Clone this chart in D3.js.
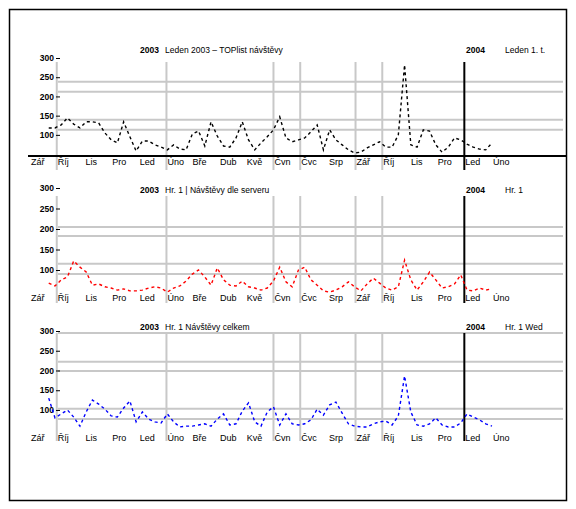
<!DOCTYPE html>
<html><head><meta charset="utf-8">
<script src="https://cdn.jsdelivr.net/npm/d3@7"></script>
<style>body{margin:0;background:#fff}svg{display:block}</style>
</head><body><svg id="c" width="576" height="509"></svg>
<script>
// ---------- data ----------
const monthLabels = ["Zář","Říj","Lis","Pro","Led","Úno","Bře","Dub","Kvě","Čvn","Čvc","Srp","Zář","Říj","Lis","Pro","Led","Úno"];
const firstMonth = new Date(2002, 8, 1);
const seriesStart = new Date(2002, 8, 22);   // weekly samples
const seriesBlack = [118,118,126,144,128,118,134,134,131,105,
  87,79,134,95,58,84,84,74,68,61,
  74,63,61,102,110,71,134,97,71,68,
  92,134,87,61,79,95,113,147,92,82,
  87,92,108,126,61,113,87,74,61,53,
  55,66,74,82,68,68,100,282,74,68,
  113,110,74,55,68,92,87,76,68,63,
  61,79];
const seriesRed = [68,61,76,83,122,107,95,63,66,59,
  56,51,54,49,49,51,56,59,56,46,
  56,61,73,90,100,83,63,105,76,63,
  61,73,59,56,51,56,73,107,71,59,
  100,107,76,63,49,46,51,59,71,59,
  49,66,80,68,56,51,59,124,76,51,
  71,95,76,56,59,66,88,51,49,56,
  51,54];
const seriesBlue = [130,80,90,100,82,59,95,125,115,102,
  85,82,105,123,70,95,77,70,67,90,
  70,57,59,59,62,65,59,77,90,62,
  65,97,118,70,59,95,108,62,90,65,
  62,65,75,102,87,113,120,92,65,59,
  57,57,65,70,72,62,85,186,95,62,
  59,65,80,62,57,57,67,90,82,75,
  65,59];
const yTickValues = [100, 150, 200, 250, 300];
const refLines1 = [238, 212, 139, 113];
const refLines2 = [205, 183, 115, 90];
const refLines3 = [295, 222, 199, 103, 77];
const markerDates = [new Date(2002,9,1), new Date(2003,1,1), new Date(2003,5,1), new Date(2003,6,1), new Date(2003,8,1), new Date(2003,9,1)];
const yearMark = new Date(2004, 0, 1);
const titleYearLeft = ["2003", "2003", "2003"];
const titleTextLeft = ["Leden 2003 – TOPlist návštěvy", "Hr. 1 | Návštěvy dle serveru", "Hr. 1  Návštěvy celkem"];
const titleYearRight = ["2004", "2004", "2004"];
const titleTextRight = ["Leden 1. t.", "Hr. 1", "Hr. 1   Wed"];

// ---------- layout ----------
const svg = d3.select("#c");
const FONT = "Liberation Sans, Arial, sans-serif";
const x = d3.scaleTime().domain([new Date(2002,8,1), new Date(2004,3,24)]).range([30, 566]);

svg.append("rect").attr("x", 9.5).attr("y", 9.5).attr("width", 557).attr("height", 491)
  .attr("fill", "#fff").attr("stroke", "#000").attr("stroke-width", 1.5);

const panels = [
  {data: seriesBlack, color: "#000000", refs: refLines1, dom: [45, 300], rng: [156, 58], vTop: 62, vBot: 170, labY: 165, titleY: 53, axis: true},
  {data: seriesRed,   color: "#ff0000", refs: refLines2, dom: [40, 300], rng: [294.6, 188], vTop: 196, vBot: 303, labY: 301, titleY: 193, axis: false},
  {data: seriesBlue,  color: "#0000ff", refs: refLines3, dom: [45, 300], rng: [431.7, 331], vTop: 333, vBot: 441, labY: 441, titleY: 330, axis: false}
];

const months = d3.range(monthLabels.length).map(i => d3.timeMonth.offset(firstMonth, i));

panels.forEach((p, k) => {
  const y = d3.scaleLinear().domain(p.dom).range(p.rng);
  const g = svg.append("g");

  // horizontal reference lines
  g.selectAll("line.h").data(p.refs).join("line")
    .attr("x1", 58).attr("x2", 563)
    .attr("y1", d => y(d)).attr("y2", d => y(d))
    .attr("stroke", "#c8c8c8").attr("stroke-width", 2);

  // vertical markers
  g.selectAll("line.v").data(markerDates).join("line")
    .attr("x1", d => x(d)).attr("x2", d => x(d))
    .attr("y1", p.vTop).attr("y2", p.vBot)
    .attr("stroke", "#c8c8c8").attr("stroke-width", 2);

  // baseline (first panel)
  if (p.axis) {
    g.append("line").attr("x1", 28).attr("x2", 566).attr("y1", p.rng[0]).attr("y2", p.rng[0])
      .attr("stroke", "#000").attr("stroke-width", 2);
  }

  // year mark
  g.append("line").attr("x1", x(yearMark)).attr("x2", x(yearMark))
    .attr("y1", p.vTop).attr("y2", p.vBot).attr("stroke", "#000").attr("stroke-width", 2);

  // y labels
  const ya = d3.axisLeft(y).tickValues(yTickValues).tickSize(4).tickPadding(2);
  const yg = g.append("g").attr("transform", "translate(60,0)").call(ya);
  yg.select(".domain").remove();
  yg.selectAll("text").attr("font-family", FONT).attr("font-size", 8.5).attr("font-weight", "bold").attr("fill", "#000");
  yg.selectAll("line").attr("stroke", "#000");

  // month labels
  g.selectAll("text.m").data(months).join("text")
    .attr("x", d => x(d) + 1).attr("y", p.labY)
    .attr("font-family", FONT).attr("font-size", 9).attr("fill", "#000")
    .text((d, i) => monthLabels[i]);

  // titles
  const t = [[140, titleYearLeft[k]], [165, titleTextLeft[k]], [466, titleYearRight[k]], [505, titleTextRight[k]]];
  g.selectAll("text.t").data(t).join("text")
    .attr("x", d => d[0]).attr("y", p.titleY)
    .attr("font-family", FONT).attr("font-size", 8.5).attr("fill", "#000")
    .attr("font-weight", (d, i) => i % 2 === 0 ? "bold" : "normal")
    .text(d => d[1]);

  // series
  const pts = p.data.map((v, i) => ({date: d3.timeDay.offset(seriesStart, 7 * i), v}));
  g.append("path").datum(pts)
    .attr("fill", "none").attr("stroke", p.color).attr("stroke-width", 1.4)
    .attr("stroke-dasharray", "3,3")
    .attr("d", d3.line().x(d => x(d.date)).y(d => y(d.v)));
});
</script></body></html>
